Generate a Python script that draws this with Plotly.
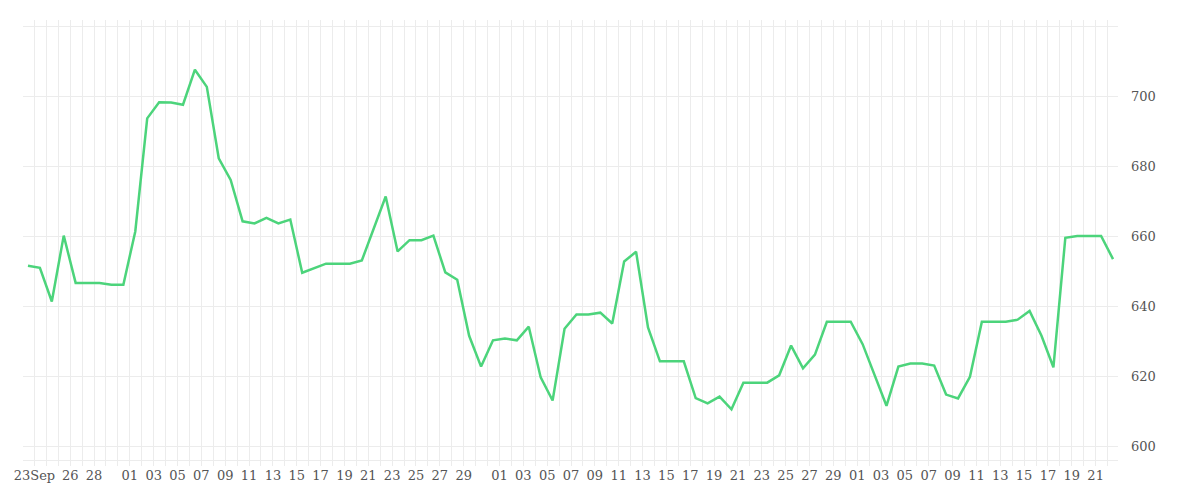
import plotly.graph_objects as go
import pandas as pd

start_date = "2023-09-23"
values = [651.6, 651.0, 641.4, 660.2, 646.7, 646.7, 646.7, 646.2,
          646.2, 661.4, 693.7, 698.3, 698.2, 697.6, 707.6, 702.7, 682.3, 676.1,
          664.3, 663.7, 665.3, 663.7, 664.8, 649.6, 650.9, 652.2, 652.2, 652.2,
          653.1, 662.0, 671.4, 655.7, 658.9, 658.9, 660.2, 649.7, 647.6, 631.6, 622.8,
          630.3, 630.8, 630.3, 634.2, 619.7, 613.1, 633.6, 637.7, 637.7, 638.2,
          635.1, 652.8, 655.6, 634.0, 624.3, 624.3, 624.3, 613.8, 612.3, 614.2,
          610.6, 618.2, 618.2, 618.2, 620.3, 628.8, 622.3, 626.2, 635.6, 635.6,
          635.6, 629.2, 620.6, 611.6, 622.8, 623.7, 623.7, 623.1, 614.8, 613.7,
          619.9, 635.6, 635.6, 635.6, 636.2, 638.7, 631.6, 622.6, 659.6, 660.1,
          660.1, 660.1, 653.5]
tick_dates = (["2023-09-23", "2023-09-26", "2023-09-28"]
              + [f"2023-10-{d:02d}" for d in range(1, 30, 2)]
              + [f"2023-11-{d:02d}" for d in range(1, 30, 2)]
              + [f"2023-12-{d:02d}" for d in range(1, 22, 2)])
tick_labels = ["23Sep", "26", "28"] + [d[-2:] for d in tick_dates[3:]]

dates = pd.date_range(start_date, periods=len(values), freq="D")
off = pd.Timedelta(hours=13)
tickvals = [pd.Timestamp(d) + off for d in tick_dates]

fig = go.Figure(go.Scatter(x=dates, y=values, mode="lines",
                           line=dict(color="#4cd47b", width=2.5), hoverinfo="skip"))
grid = "#ececec"
fig.update_layout(
    width=1200, height=500, margin=dict(l=15, r=90, t=12, b=42),
    plot_bgcolor="white", paper_bgcolor="white", showlegend=False,
    font=dict(family="DejaVu Serif", size=13, color="#555"),
    xaxis=dict(type="date", automargin=False,
               range=[dates[0] - pd.Timedelta(hours=10), dates[-1] + pd.Timedelta(hours=10)],
               tickmode="array", tickvals=tickvals, ticktext=tick_labels,
               showgrid=True, gridcolor=grid, zeroline=False, showline=False,
               ticks="", tickfont=dict(size=13),
               minor=dict(tick0=pd.Timestamp("2023-09-22") + off, dtick=86400000,
                          showgrid=True, gridcolor=grid)),
    yaxis=dict(side="right", automargin=False, range=[594.4, 721.8],
               tickvals=[600, 620, 640, 660, 680, 700],
               showgrid=True, gridcolor=grid, zeroline=False, ticks="",
               ticklabelstandoff=12,
               minor=dict(tickvals=[596.0, 720.0], showgrid=True, gridcolor=grid)),
)
fig.write_html("out.html")
